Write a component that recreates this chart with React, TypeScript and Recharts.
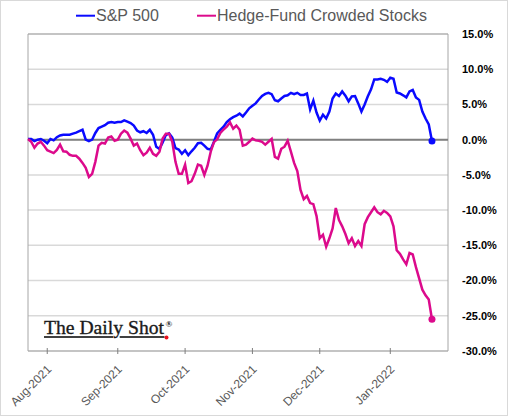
import { LineChart, Line, XAxis, YAxis, CartesianGrid, ReferenceLine, ReferenceArea } from "recharts";

// trading days, Jul 23 2021 .. Jan 21 2022
const dates = [
  "2021-07-23", "2021-07-26", "2021-07-27", "2021-07-28", "2021-07-29", "2021-07-30",
  "2021-08-02", "2021-08-03", "2021-08-04", "2021-08-05", "2021-08-06", "2021-08-09", "2021-08-10", "2021-08-11",
  "2021-08-12", "2021-08-13", "2021-08-16", "2021-08-17", "2021-08-18", "2021-08-19", "2021-08-20", "2021-08-23",
  "2021-08-24", "2021-08-25", "2021-08-26", "2021-08-27", "2021-08-30", "2021-08-31",
  "2021-09-01", "2021-09-02", "2021-09-03", "2021-09-07", "2021-09-08", "2021-09-09", "2021-09-10", "2021-09-13",
  "2021-09-14", "2021-09-15", "2021-09-16", "2021-09-17", "2021-09-20", "2021-09-21", "2021-09-22", "2021-09-23",
  "2021-09-24", "2021-09-27", "2021-09-28", "2021-09-29", "2021-09-30",
  "2021-10-01", "2021-10-04", "2021-10-05", "2021-10-06", "2021-10-07", "2021-10-08", "2021-10-11", "2021-10-12",
  "2021-10-13", "2021-10-14", "2021-10-15", "2021-10-18", "2021-10-19", "2021-10-20", "2021-10-21", "2021-10-22",
  "2021-10-25", "2021-10-26", "2021-10-27", "2021-10-28", "2021-10-29",
  "2021-11-01", "2021-11-02", "2021-11-03", "2021-11-04", "2021-11-05", "2021-11-08", "2021-11-09", "2021-11-10",
  "2021-11-11", "2021-11-12", "2021-11-15", "2021-11-16", "2021-11-17", "2021-11-18", "2021-11-19", "2021-11-22",
  "2021-11-23", "2021-11-24", "2021-11-26", "2021-11-29", "2021-11-30",
  "2021-12-01", "2021-12-02", "2021-12-03", "2021-12-06", "2021-12-07", "2021-12-08", "2021-12-09", "2021-12-10",
  "2021-12-13", "2021-12-14", "2021-12-15", "2021-12-16", "2021-12-17", "2021-12-20", "2021-12-21", "2021-12-22",
  "2021-12-23", "2021-12-27", "2021-12-28", "2021-12-29", "2021-12-30", "2021-12-31",
  "2022-01-03", "2022-01-04", "2022-01-05", "2022-01-06", "2022-01-07", "2022-01-10", "2022-01-11", "2022-01-12",
  "2022-01-13", "2022-01-14", "2022-01-18", "2022-01-19", "2022-01-20", "2022-01-21",
];

// % change since start
const spx = [
  0.1, 0.1, -0.2, 0.0, 0.1, -0.15,
  -0.5, 0.1, -0.1, 0.35, 0.6, 0.7, 0.7, 0.7, 0.85, 1.0, 1.2, 1.4, 0.0, -0.2, 0.0, 0.95,
  1.65, 1.85, 2.05, 2.4, 2.5, 2.4,
  2.5, 2.5, 2.75, 2.55, 2.35, 2.0, 1.3, 1.05, 1.2, 0.95, 1.4, 0.7, -1.0, -1.3, -0.4, 0.65,
  0.9, 0.3, -1.2, -1.4, -2.0,
  -1.5, -2.2, -1.65, -1.15, -0.5, -0.45, -0.85, -1.3, -1.4, -0.3, 0.9, 1.4, 1.85, 2.5, 2.9, 3.2,
  3.4, 3.7, 3.3, 3.85, 4.45,
  4.8, 5.15, 5.7, 6.2, 6.5, 6.65, 6.45, 5.6, 5.45, 5.85, 6.2, 6.3, 6.65, 6.45, 6.65, 6.35,
  6.35, 6.55, 4.3, 5.55, 3.85,
  2.7, 3.55, 3.0, 4.0, 5.85, 6.55, 6.2, 6.85, 6.25, 5.45, 6.15, 6.2, 5.15, 4.0, 5.0, 6.15,
  7.15, 8.55, 8.55, 8.65, 8.5, 8.2,
  8.8, 8.65, 6.7, 6.55, 6.3, 6.0, 6.85, 7.05, 6.0, 5.65, 4.0, 3.0, 2.15, -0.2,
];

const crowded = [
  0.1, -0.3, -1.15, -0.55, -0.3, -0.85,
  -1.5, -1.7, -1.9, -1.45, -0.7, -1.65, -1.7, -2.15, -2.3, -2.3, -2.7, -3.3, -4.0, -5.3, -4.85, -3.15,
  -0.85, -0.45, -0.55, 0.3, 0.45, -0.15,
  0.0, 0.85, 1.3, 1.0, 0.15, -0.85, -0.55, -1.5, -2.2, -1.85, -1.15, -2.0, -2.3, -1.7, 0.15, 0.85,
  0.85, -0.3, -3.15, -4.85, -4.85,
  -3.55, -6.15, -5.9, -4.85, -3.55, -3.7, -5.0, -3.7, -1.7, -0.35, 0.05, 0.95, 1.45, 1.85, 2.45, 1.55,
  2.0, 1.4, -0.85, -0.7, -0.3,
  0.15, -0.1, -0.15, -0.3, -0.7, -0.3, 0.1, -2.45, -2.7, -1.3, -1.0, -0.15, -1.7, -3.3, -4.45, -7.15,
  -8.45, -8.0, -9.0, -9.15, -10.85,
  -14.0, -13.5, -15.2, -14.0, -12.6, -9.7, -11.4, -12.3, -13.4, -14.7, -14.0, -15.1, -14.4, -15.1, -12.0, -11.0,
  -10.3, -9.6, -10.3, -10.6, -10.1, -10.4,
  -10.9, -12.3, -15.7, -16.2, -17.0, -17.7, -16.1, -16.3, -18.1, -19.7, -21.3, -22.1, -22.7, -25.5,
];

const tickMonths = ["2021-08", "2021-09", "2021-10", "2021-11", "2021-12", "2022-01"];
const tickLabels = ["Aug-2021", "Sep-2021", "Oct-2021", "Nov-2021", "Dec-2021", "Jan-2022"];
const yTicks = [15, 10, 5, 0, -5, -10, -15, -20, -25, -30];

const data = dates.map((d, i) => ({ i, date: d, spx: spx[i], crowded: crowded[i] }));
const tickIdx = tickMonths.map((m) => dates.findIndex((d) => d.startsWith(m)));
const labelByIdx: Record<number, string> = {};
tickIdx.forEach((t, k) => (labelByIdx[t] = tickLabels[k]));

const BLUE = "#0a0aff";
const PINK = "#dc0a8c";
const FONT = "'Liberation Sans', Arial, sans-serif";
const SERIF = "'Liberation Serif', 'Times New Roman', serif";

function MonthTick({ x, y, payload }: any) {
  const tx = x + 5;
  const ty = y + 19;
  return (
    <g>
      <line x1={x} x2={x} y1={y - 3} y2={y + 3} stroke="#7f7f7f" />
      <text x={tx} y={ty} transform={`rotate(-45 ${tx} ${ty})`} textAnchor="end" fontSize={12} fontFamily={FONT} fill="#595959">
        {labelByIdx[payload.value]}
      </text>
    </g>
  );
}

function EndDot({ cx, cy, index, stroke }: any) {
  if (index !== data.length - 1) return <g key={index} />;
  return <circle key={index} cx={cx} cy={cy} r={3.5} fill={stroke} />;
}

export default function App() {
  return (
    <div style={{ position: "absolute", left: 0, top: 0, width: 508, height: 416, background: "#fff", fontFamily: FONT }}>
      <LineChart width={508} height={416} data={data} margin={{ top: 34, right: 0, bottom: 0, left: 28 }}>
        <CartesianGrid vertical={false} stroke="#d9d9d9" strokeWidth={1.5} />
        <XAxis
          dataKey="i"
          type="number"
          domain={[0, 131]}
          ticks={tickIdx}
          interval={0}
          tick={<MonthTick />}
          tickLine={false}
          axisLine={false}
          tickSize={0}
          tickMargin={0}
          height={65}
        />
        <YAxis
          orientation="right"
          domain={[-30, 15]}
          ticks={yTicks}
          interval={0}
          width={60}
          axisLine={false}
          tickLine={false}
          tickSize={6}
          tickMargin={8}
          tick={{ fontSize: 11, fontWeight: 700, fill: "#000", fontFamily: FONT }}
          tickFormatter={(v: number) => `${v.toFixed(1)}%`}
        />
        <ReferenceArea x1={0} x2={131} y1={-30} y2={15} fill="none" stroke="#a6a6a6" />
        <ReferenceLine y={0} stroke="#808080" strokeWidth={2} />
        <Line dataKey="spx" type="linear" stroke={BLUE} strokeWidth={2.5} dot={<EndDot />} activeDot={false} isAnimationActive={false} />
        <Line dataKey="crowded" type="linear" stroke={PINK} strokeWidth={2.5} dot={<EndDot />} activeDot={false} isAnimationActive={false} />
      </LineChart>
      <svg width={508} height={416} style={{ position: "absolute", left: 0, top: 0, pointerEvents: "none" }}>
        <rect x={0.5} y={0.5} width={507} height={415} fill="none" stroke="#d9d9d9" />
        <line x1={76} x2={95} y1={15.7} y2={15.7} stroke={BLUE} strokeWidth={2} />
        <text x={96} y={21.3} fontSize={16} fill="#595959" fontFamily={FONT}>S&amp;P 500</text>
        <line x1={197} x2={216} y1={15.7} y2={15.7} stroke={PINK} strokeWidth={2} />
        <text x={217} y={21.3} fontSize={16} fill="#595959" fontFamily={FONT}>Hedge-Fund Crowded Stocks</text>
        <text x={44} y={333.7} fontSize={19.5} fill="#1a1a1a" stroke="#1a1a1a" strokeWidth={0.35} fontFamily={SERIF} textLength={120} lengthAdjust="spacingAndGlyphs">
          The Daily Shot
        </text>
        <text x={165.5} y={327} fontSize={9} fontWeight={700} fill="#1a1a1a" fontFamily={SERIF}>®</text>
        <line x1={44} x2={113} y1={337} y2={337} stroke="#404040" strokeWidth={1.8} />
        <line x1={119.7} x2={164.5} y1={337} y2={337} stroke="#404040" strokeWidth={1.8} />
        <circle cx={166.5} cy={337.5} r={2} fill="#e8101e" />
      </svg>
    </div>
  );
}
